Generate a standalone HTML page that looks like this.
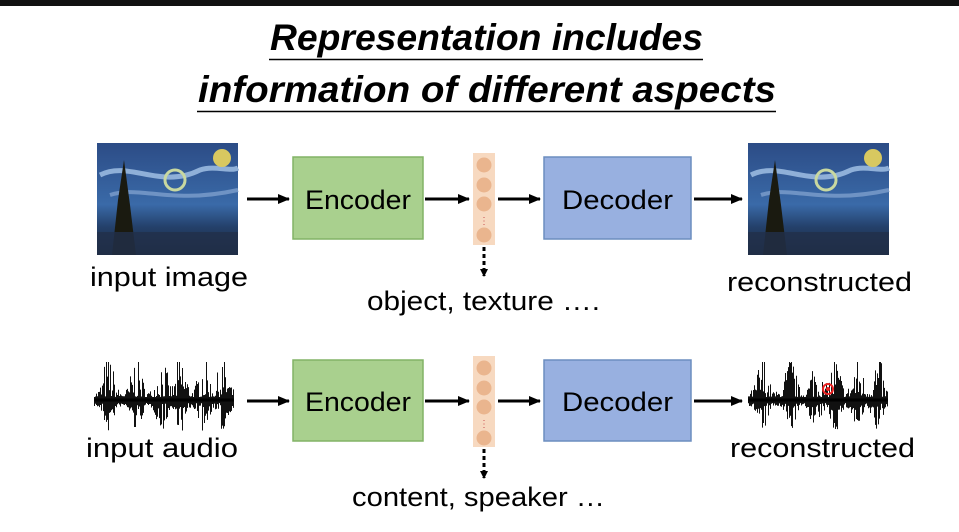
<!DOCTYPE html>
<html><head><meta charset="utf-8"><style>
html,body{margin:0;padding:0;background:#fff;}
svg{display:block}
text{font-family:"Liberation Sans",sans-serif;}
</style></head><body>
<svg id="s" width="959" height="532" viewBox="0 0 959 532" xmlns="http://www.w3.org/2000/svg">
<defs>
<linearGradient id="sky" x1="0" y1="0" x2="0" y2="1">
<stop offset="0" stop-color="#2c4c86"/><stop offset="0.55" stop-color="#3a6aa8"/><stop offset="0.75" stop-color="#24406a"/><stop offset="1" stop-color="#1a2a3a"/>
</linearGradient>
<marker id="ah" markerWidth="8" markerHeight="8" refX="7" refY="4" orient="auto" markerUnits="userSpaceOnUse"><path d="M0,0 L8,4 L0,8 z" fill="#000"/></marker>
<marker id="ah2" markerWidth="12" markerHeight="10" refX="11" refY="5" orient="auto" markerUnits="userSpaceOnUse"><path d="M0,0 L12,5 L0,10 z" fill="#000"/></marker>
</defs>
<rect x="0" y="0" width="959" height="6" fill="#111"/>
<g font-style="italic" font-weight="bold" font-size="37">
<text x="270" y="50" textLength="433" lengthAdjust="spacingAndGlyphs">Representation includes</text>
<text x="198" y="102" textLength="578" lengthAdjust="spacingAndGlyphs">information of different aspects</text>
</g>
<line x1="269" y1="59.5" x2="703" y2="59.5" stroke="#000" stroke-width="1.5"/>
<line x1="197" y1="111.5" x2="776" y2="111.5" stroke="#000" stroke-width="1.5"/>

<g id="paint">
<rect x="97" y="143" width="141" height="112" fill="url(#sky)"/>
<path d="M100,175 C130,160 160,190 200,170 C215,165 230,172 238,168" stroke="#8fb0d8" stroke-width="5" fill="none"/>
<path d="M110,195 C140,185 170,205 238,190" stroke="#6f93c4" stroke-width="4" fill="none"/>
<circle cx="222" cy="158" r="9" fill="#d8c860"/>
<circle cx="175" cy="180" r="10" fill="none" stroke="#c8d8a0" stroke-width="3"/>
<path d="M112,255 L118,200 L124,160 L130,205 L136,255 z" fill="#1a1a10"/>
<rect x="97" y="232" width="141" height="23" fill="#22304a" opacity="0.8"/>
</g>
<use href="#paint" x="651" y="0"/>

<g font-size="27">
<rect x="293" y="157" width="130" height="82" fill="#a9d08e" stroke="#82b366" stroke-width="1.5"/>
<text x="305" y="209" textLength="106" lengthAdjust="spacingAndGlyphs">Encoder</text>
<rect x="544" y="157" width="147" height="82" fill="#98b0e0" stroke="#6c8ebf" stroke-width="1.5"/>
<text x="562" y="209" textLength="111" lengthAdjust="spacingAndGlyphs">Decoder</text>
<rect x="293" y="360" width="130" height="81" fill="#a9d08e" stroke="#82b366" stroke-width="1.5"/>
<text x="305" y="411" textLength="106" lengthAdjust="spacingAndGlyphs">Encoder</text>
<rect x="544" y="360" width="147" height="81" fill="#98b0e0" stroke="#6c8ebf" stroke-width="1.5"/>
<text x="562" y="411" textLength="111" lengthAdjust="spacingAndGlyphs">Decoder</text>
</g>
<g>
<rect x="473" y="153" width="22" height="92" fill="#f7d9c0"/>
<circle cx="484" cy="165" r="7.5" fill="#eab58e"/><circle cx="484" cy="185" r="7.5" fill="#eab58e"/><circle cx="484" cy="204" r="7.5" fill="#eab58e"/><circle cx="484" cy="235" r="7.5" fill="#eab58e"/>
<text x="484" y="224" font-size="10" fill="#c55" text-anchor="middle">⋮</text>
<rect x="473" y="356" width="22" height="91" fill="#f7d9c0"/>
<circle cx="484" cy="368" r="7.5" fill="#eab58e"/><circle cx="484" cy="388" r="7.5" fill="#eab58e"/><circle cx="484" cy="407" r="7.5" fill="#eab58e"/><circle cx="484" cy="438" r="7.5" fill="#eab58e"/>
<text x="484" y="427" font-size="10" fill="#c55" text-anchor="middle">⋮</text>
</g>
<g stroke="#000" stroke-width="3" fill="none">
<line x1="247" y1="199" x2="289" y2="199" marker-end="url(#ah2)"/>
<line x1="425" y1="199" x2="469" y2="199" marker-end="url(#ah2)"/>
<line x1="498" y1="199" x2="540" y2="199" marker-end="url(#ah2)"/>
<line x1="694" y1="199" x2="742" y2="199" marker-end="url(#ah2)"/>
<line x1="247" y1="401" x2="289" y2="401" marker-end="url(#ah2)"/>
<line x1="425" y1="401" x2="469" y2="401" marker-end="url(#ah2)"/>
<line x1="498" y1="401" x2="540" y2="401" marker-end="url(#ah2)"/>
<line x1="694" y1="401" x2="742" y2="401" marker-end="url(#ah2)"/>
<line x1="484" y1="247" x2="484" y2="276" stroke-dasharray="4 3" marker-end="url(#ah)"/>
<line x1="484" y1="449" x2="484" y2="478" stroke-dasharray="4 3" marker-end="url(#ah)"/>
</g>
<g id="w1"></g>
<g id="w2"></g>
<circle cx="828" cy="389" r="5" fill="none" stroke="#e22" stroke-width="2"/>
<circle cx="828" cy="389" r="2" fill="#e22"/>
<g font-size="27">
<text x="90" y="286" textLength="158" lengthAdjust="spacingAndGlyphs">input image</text>
<text x="367" y="310" textLength="233" lengthAdjust="spacingAndGlyphs">object, texture ….</text>
<text x="727" y="291" textLength="185" lengthAdjust="spacingAndGlyphs">reconstructed</text>
<text x="86" y="457" textLength="152" lengthAdjust="spacingAndGlyphs">input audio</text>
<text x="352" y="506" textLength="253" lengthAdjust="spacingAndGlyphs">content, speaker …</text>
<text x="730" y="457" textLength="185" lengthAdjust="spacingAndGlyphs">reconstructed</text>
</g>
</svg>
<script>
(function(){
var seed=7;function r(){seed=(seed*16807)%2147483647;return seed/2147483647;}
var env=function(t){var peaks=[0.1,0.3,0.48,0.62,0.78,0.92];var v=0.1;peaks.forEach(function(p){v+=Math.exp(-Math.pow((t-p)/0.045,2))*0.9;});return Math.min(v,1);};
function make(id,x0){var g=document.getElementById(id),d="";
for(var i=0;i<140;i++){var t=i/140,e=env(t);var k=r();var up=(3+36*e*k*k*1.4),dn=(3+30*e*r());d+="M"+(x0+i+0.5)+","+(400-Math.min(up,38))+"V"+(400+dn);}
var p=document.createElementNS("http://www.w3.org/2000/svg","path");p.setAttribute("d",d);p.setAttribute("stroke","#111");p.setAttribute("stroke-width","1");g.appendChild(p);
var l=document.createElementNS("http://www.w3.org/2000/svg","line");l.setAttribute("x1",x0);l.setAttribute("x2",x0+140);l.setAttribute("y1",400);l.setAttribute("y2",400);l.setAttribute("stroke","#000");l.setAttribute("stroke-width","3");g.appendChild(l);}
make("w1",94);make("w2",748);
})();
</script>
</body></html>
